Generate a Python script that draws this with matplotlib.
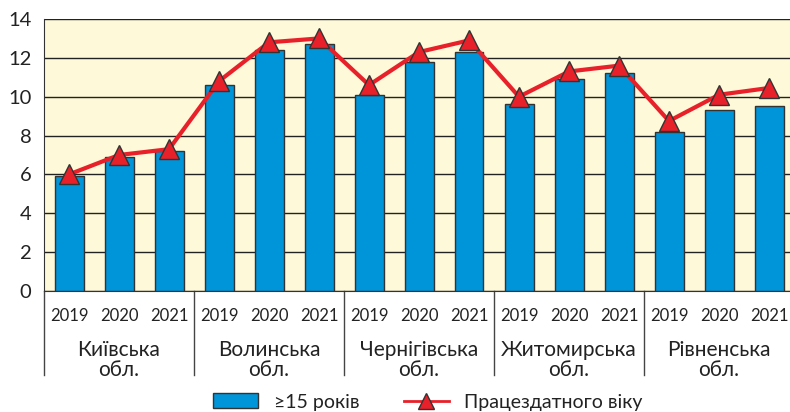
import matplotlib.pyplot as plt
from matplotlib.lines import Line2D
from matplotlib.patches import Patch
import numpy as np

plt.rcParams['font.family'] = ['Lato', 'DejaVu Sans']

regions = ['Київська\nобл.', 'Волинська\nобл.', 'Чернігівська\nобл.',
           'Житомирська\nобл.', 'Рівненська\nобл.']
years = ['2019', '2020', '2021']
age15 = [5.9, 6.9, 7.2, 10.6, 12.4, 12.7, 10.1, 11.8, 12.3,
         9.6, 10.9, 11.2, 8.2, 9.3, 9.5]
working_age = [6.0, 7.0, 7.3, 10.8, 12.8, 13.0, 10.6, 12.3, 12.9,
               10.0, 11.3, 11.6, 8.75, 10.1, 10.45]

bar_color = '#0094d8'
line_color = '#e8202a'
edge = '#333333'
text_color = '#222222'

fig = plt.figure(figsize=(7.9, 4.12), dpi=100)
ax = fig.add_axes([44 / 790, 121 / 412, 746 / 790, 272 / 412])
ax.set_facecolor('#fef9d8')

x = np.arange(len(age15))
ax.bar(x, age15, width=0.58, color=bar_color, edgecolor=edge, linewidth=1, zorder=3)
ax.plot(x, working_age, color=line_color, lw=3, marker='^', ms=14,
        mfc=line_color, mec=edge, mew=1, zorder=4)

ax.set_xlim(-0.5, -0.5 + 746 / 50)
ax.set_ylim(0, 14)
ax.set_yticks(range(0, 15, 2))
ax.yaxis.grid(True, color='#222222', lw=1)
ax.set_axisbelow(True)
ax.tick_params(axis='y', length=0, pad=9, labelsize=14.5, labelcolor=text_color)
ax.set_xticks([])
for s in ['top', 'right']:
    ax.spines[s].set_visible(False)
ax.spines['left'].set_color(edge)
ax.spines['bottom'].set_color(edge)
ax.spines['left'].set_bounds(0, 14)

# group labels and dividers below the axis
trans = ax.get_xaxis_transform()
for i in x:
    ax.text(i, -0.092, years[i % 3], transform=trans, ha='center', va='center',
            fontsize=12, color=text_color)
for g, name in enumerate(regions):
    ax.text(g * 3 + 1, -0.255, name, transform=trans, ha='center', va='center',
            fontsize=15, color=text_color, linespacing=1.0)
for g in range(5):
    ax.add_line(Line2D([g * 3 - 0.5] * 2, [0, -0.31], transform=trans,
                       color='#444444', lw=1, clip_on=False))

handles = [Patch(facecolor=bar_color, edgecolor=edge, lw=1),
           Line2D([], [], color=line_color, lw=2, marker='^', ms=11,
                  mfc=line_color, mec=edge, mew=1)]
fig.legend(handles, ['≥15 років', 'Працездатного віку'], loc='center',
           bbox_to_anchor=(428 / 790, 1 - 402 / 412), ncol=2, frameon=False,
           fontsize=14, handlelength=2.3, handleheight=0.8, columnspacing=2.3,
           handletextpad=0.8, labelcolor=text_color)

fig.savefig('out.png', dpi=100)
